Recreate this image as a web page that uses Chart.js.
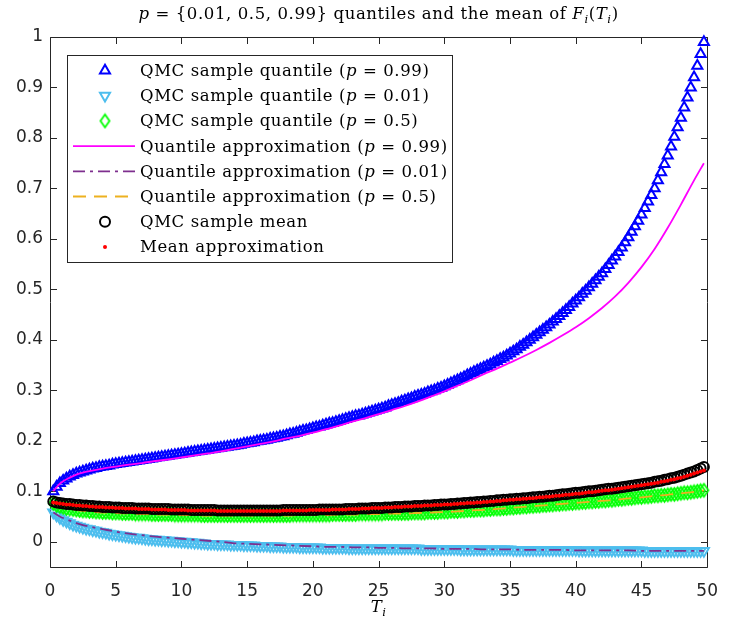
<!DOCTYPE html>
<html>
<head>
<meta charset="utf-8">
<title>Quantiles and mean of F_i(T_i)</title>
<script src="https://cdn.jsdelivr.net/npm/chart.js@4.4.1/dist/chart.umd.min.js"></script>
<style>
  html, body { margin: 0; padding: 0; background: #fff; }
</style>
</head>
<body>
<canvas id="quantileChart" width="732" height="624"></canvas>
<script>
// ---- data (values in thousandths) ------------------------------------------
// sample grid T = 0.25, 0.5, ... 49.75
const tStep = 0.25;
const tCount = 199;
const tGrid = Array.from({ length: tCount }, (_, i) => (i + 1) * tStep);

const qmcQ99 = [
  100,109,116,121, 125,129,132,135, 137,139,141,143, 145,146,148,149, 150,151,153,154,
  155,156,157,158, 159,160,161,162, 163,164,165,166, 167,168,169,170, 171,172,173,174,
  175,176,177,178, 179,180,181,182, 183,184,185,186, 187,188,189,190, 191,192,194,195,
  196,197,199,200, 201,202,204,205, 206,208,209,211, 213,214,216,218, 220,221,223,225,
  227,228,230,232, 234,235,237,239, 241,243,245,247, 249,250,252,254, 256,258,260,262,
  264,266,269,271, 273,275,278,280, 282,284,287,289, 291,293,296,298, 300,303,305,308,
  311,314,317,320, 323,326,330,333, 336,339,342,345, 348,351,355,358, 362,365,369,373,
  377,381,386,390, 395,400,405,410, 415,420,425,430, 436,441,447,453, 459,465,472,478,
  484,491,497,504, 511,518,525,532, 540,548,557,565, 574,583,593,603, 614,625,636,648,
  661,674,687,700, 716,732,748,765, 783,802,821,840, 860,880,900,920, 943,966,990
];

const qmcQ01 = [
  58,52,47,43, 40,37,34,32, 30,28,26,25, 23,22,20,19, 18,16,15,14,
  13,12,11,10, 9,8,8,7, 6,5,5,4, 4,3,3,2, 2,1,1,0,
  0,-1,-1,-2, -2,-3,-3,-4, -4,-4,-5,-5, -5,-5,-6,-6, -6,-6,-7,-7,
  -7,-7,-8,-8, -8,-8,-9,-9, -9,-9,-10,-10, -10,-10,-10,-11, -11,-11,-11,-11,
  -11,-11,-12,-12, -12,-12,-12,-12, -12,-12,-13,-13,
  -13,-13,-13,-13, -13,-13,-13,-13, -13,-13,-13,-13, -13,-13,-13,-13, -13,-13,-13,-13,
  -14,-14,-14,-14, -14,-14,-14,-14, -14,-14,-14,-14,
  -15,-15,-15,-15, -15,-15,-15,-15, -15,-15,-15,-15, -15,-15,-15,-15,
  -16,-16,-16,-16, -16,-16,-16,-16, -16,-16,-16,-16, -16,-16,-16,-16, -16,-16,-16,-16,
  -17,-17,-17,-17, -17,-17,-17,-17, -17,-17,-17,-17, -17,-17,-17,-17, -17,-17,-17,-17,
  -18,-18,-18,-18, -18,-18,-18,-18, -18,-18,-18,-18, -18,-18,-18,-18, -18,-18,-18
];

const qmcQ50 = [
  76,72,70,68, 66,65,64,63, 62,61,61,60, 60,59,59,58, 58,58,57,57,
  57,56,56,56, 56,55,55,55, 55,55,54,54, 54,54,54,54, 54,53,53,53,
  53,53,53,53, 53,52,52,52, 52,52,52,52, 52,52,52,52, 52,52,52,52,
  52,52,52,52, 52,52,52,52, 52,52,52,52, 52,53,53,53, 53,53,53,53,
  53,53,53,53, 53,54,54,54, 54,54,54,54, 54,55,55,55, 55,55,55,55,
  55,56,56,56, 56,56,56,56, 56,57,57,57, 57,57,58,58, 58,58,59,59,
  59,60,60,60, 61,61,62,62, 62,63,63,63, 64,64,65,65, 65,66,66,67,
  67,68,68,69, 69,70,70,71, 71,72,72,73, 73,74,74,75, 75,76,76,77,
  77,78,78,79, 79,80,80,81, 81,82,82,83, 84,84,85,86, 86,87,88,88,
  89,89,90,91, 91,92,92,93, 94,94,95,96, 97,97,98,99, 100,101,102
];

const qmcMean = [
  80,78,77,76, 75,75,74,73, 73,72,72,71, 71,70,70,69, 69,69,68,68,
  68,67,67,67, 67,66,66,66, 66,66,65,65, 65,65,65,65, 64,64,64,64,
  64,64,63,63, 63,63,63,63, 63,63,62,62, 62,62,62,62, 62,62,62,62,
  62,62,62,62, 62,62,62,62, 62,62,63,63, 63,63,63,63, 63,63,63,63,
  63,64,64,64, 64,64,64,64, 64,65,65,65, 65,66,66,66, 66,67,67,67,
  67,68,68,68, 69,69,69,70, 70,70,71,71, 71,72,72,72, 73,73,74,74,
  74,75,75,76, 76,77,77,78, 78,79,79,80, 80,81,81,82, 82,83,83,84,
  84,85,85,86, 86,87,88,88, 89,89,90,91, 91,92,93,94, 94,95,96,97,
  97,98,99,100, 100,101,102,103, 104,105,105,106, 107,108,109,110, 111,112,113,114,
  115,116,117,119, 120,121,123,124, 126,127,129,131, 133,135,137,139, 142,145,148
];

const approxMean = [
  78,77,76,75, 74,74,73,72, 72,71,71,70, 70,69,69,69, 68,68,68,67,
  67,67,66,66, 66,66,65,65, 65,65,64,64, 64,64,64,63, 63,63,63,63,
  63,62,62,62, 62,62,62,62, 62,62,61,61, 61,61,61,61, 61,61,61,61,
  61,61,61,61, 61,61,61,61, 61,61,62,62, 62,62,62,62, 62,62,63,63,
  63,63,63,63, 63,64,64,64, 64,64,65,65, 65,65,66,66, 66,67,67,67,
  67,68,68,68, 69,69,69,70, 70,70,71,71, 71,72,72,72, 73,73,73,74,
  74,74,75,75, 76,76,77,77, 77,78,78,79, 79,80,80,81, 81,82,82,83,
  83,84,84,85, 85,86,86,87, 88,88,89,89, 90,91,91,92, 93,93,94,95,
  95,96,97,98, 98,99,100,101, 102,102,103,104, 105,106,107,108, 109,110,111,112,
  113,114,115,116, 117,119,120,121, 123,124,126,127, 129,131,133,135, 137,139,141
];

// approximation curves on a coarser grid
const tLine = [0.25, 0.5, 0.75, 1, 1.5, 2, 2.5, 3,
  4, 5, 6, 7, 8, 9, 10, 11, 12, 13, 14, 15, 16, 17, 18, 19, 20, 21, 22, 23, 24, 25, 26,
  27, 28, 29, 30, 31, 32, 33, 34, 35, 36, 37, 38, 39, 40, 41, 42, 43, 44, 45, 46, 47, 48, 49, 49.75];

const approxQ99 = [100,108,115,120,127,133,137,140,
  145,149,153,156,160,163,167,171,175,179,184,189,194,199,205,210,216,223,230,238,245,253,
  261,269,278,288,298,309,320,332,343,355,367,380,394,409,425,443,463,486,513,544,580,622,668,716, 750];

const approxQ01 = [58,54,50,47,42,37,33,30,
  25,20,16,13,10,8,6,4,2,0,-3,-4,-5,-6,-7,-8,-9,-10,-10,-11,-11,-12,-12,-13,-13,-13,-14,-14,
  -14,-15,-15,-15,-16,-16,-16,-16,-17,-17,-17,-17,-17,-18,-18,-18,-18,-18, -18];

const approxQ50 = [76,72,70,68,65,63,61,60,
  58,57,56,55,54,54,53,53,52,52,52,52,52,52,52,53,53,53,54,54,55,55,56,56,57,58,59,60,
  62,63,65,67,69,71,73,75,77,79,81,83,86,88,91,93,96,99, 102];

const xTicks = [0, 5, 10, 15, 20, 25, 30, 35, 40, 45, 50];
const yTicks = [0, 0.1, 0.2, 0.3, 0.4, 0.5, 0.6, 0.7, 0.8, 0.9, 1];

// label pieces: r = roman, i = italic, s = italic subscript
const titleParts = [['p', 'i'], [' = {0.01, 0.5, 0.99} quantiles and the mean of ', 'r'],
  ['F', 'i'], ['i', 's'], ['(', 'r'], ['T', 'i'], ['i', 's'], [')', 'r']];
const xLabelParts = [['T', 'i'], ['i', 's']];
const legendParts = [
  [['QMC sample quantile (', 'r'], ['p', 'i'], [' = 0.99)', 'r']],
  [['QMC sample quantile (', 'r'], ['p', 'i'], [' = 0.01)', 'r']],
  [['QMC sample quantile (', 'r'], ['p', 'i'], [' = 0.5)', 'r']],
  [['Quantile approximation (', 'r'], ['p', 'i'], [' = 0.99)', 'r']],
  [['Quantile approximation (', 'r'], ['p', 'i'], [' = 0.01)', 'r']],
  [['Quantile approximation (', 'r'], ['p', 'i'], [' = 0.5)', 'r']],
  [['QMC sample mean', 'r']],
  [['Mean approximation', 'r']]
];

// ---- helpers -----------------------------------------------------------------
const SERIF = '"DejaVu Serif", "Liberation Serif", serif';
const SERIF_SIZE = 16.5;
const AXIS_COLOR = '#262626';

const toPts = (xs, ys) => ys.map((v, i) => ({ x: xs[i], y: v / 1000 }));

function partFont(p, size) {
  const sz = p[1] === 's' ? size * 0.7 : size;
  return (p[1] === 'r' ? '' : 'italic ') + sz + 'px ' + SERIF;
}

function drawRich(ctx, parts, x, y, size, align) {
  ctx.letterSpacing = '0.6px';
  let w = 0;
  parts.forEach(p => { ctx.font = partFont(p, size); w += ctx.measureText(p[0]).width; });
  let cx = align === 'center' ? x - w / 2 : x;
  ctx.textAlign = 'left';
  ctx.textBaseline = 'alphabetic';
  parts.forEach(p => {
    ctx.font = partFont(p, size);
    ctx.fillText(p[0], cx, p[1] === 's' ? y + size * 0.25 : y);
    cx += ctx.measureText(p[0]).width;
  });
  ctx.letterSpacing = '0px';
}

// MATLAB-like tall diamond marker
function diamondMarker(color, w, h, lw) {
  const c = document.createElement('canvas');
  c.width = Math.ceil(w + lw * 2);
  c.height = Math.ceil(h + lw * 2);
  const g = c.getContext('2d');
  const cx = c.width / 2, cy = c.height / 2;
  g.strokeStyle = color;
  g.lineWidth = lw;
  g.lineJoin = 'miter';
  g.beginPath();
  g.moveTo(cx, cy - h / 2); g.lineTo(cx + w / 2, cy);
  g.lineTo(cx, cy + h / 2); g.lineTo(cx - w / 2, cy);
  g.closePath();
  g.stroke();
  return c;
}

// ---- datasets ----------------------------------------------------------------
const markerSet = (label, ys, style, color, radius, extra) => Object.assign({
  label: label, data: toPts(tGrid, ys), showLine: false,
  pointStyle: style, pointRadius: radius, borderColor: color, borderWidth: 2,
  backgroundColor: 'rgba(0,0,0,0)', clip: false
}, extra || {});

const lineSet = (label, ys, color, dash) => ({
  label: label, data: toPts(tLine, ys), showLine: true, pointRadius: 0,
  borderColor: color, borderWidth: 1.8, borderDash: dash, backgroundColor: color,
  cubicInterpolationMode: 'monotone', clip: false
});

const datasets = [
  markerSet('QMC q99', qmcQ99, 'triangle', '#0000ff', 5.8),
  markerSet('QMC q01', qmcQ01, 'triangle', '#4dbeee', 5.8, { rotation: 180 }),
  markerSet('QMC q50', qmcQ50, diamondMarker('#00ff00', 9, 13, 1.8), '#00ff00', 6),
  lineSet('Approx q99', approxQ99, '#ff00ff', []),
  lineSet('Approx q01', approxQ01, '#7e2f8e', [12, 5, 3, 5]),
  lineSet('Approx q50', approxQ50, '#edb120', [13, 8]),
  markerSet('QMC mean', qmcMean, 'circle', '#000000', 5),
  markerSet('Mean approx', approxMean, 'circle', '#ff0000', 2, { backgroundColor: '#ff0000', borderWidth: 0 })
];
// later series drawn on top, like the original plot order
datasets.forEach((d, i) => { d.order = datasets.length - i; });

// ---- decoration plugin: box, inward ticks, title, x label, legend -------------
const decor = {
  id: 'decor',
  beforeDatasetsDraw(chart) {
    const { ctx, chartArea: a, scales: { x, y } } = chart;
    const L = Math.round(a.left) + 0.5, R = Math.round(a.right) + 0.5;
    const T = Math.round(a.top) + 0.5, B = Math.round(a.bottom) + 0.5;
    const tl = 6.5;
    ctx.save();
    ctx.strokeStyle = AXIS_COLOR;
    ctx.lineWidth = 1;
    ctx.beginPath();
    ctx.rect(L, T, R - L, B - T);
    xTicks.forEach(v => {
      const px = Math.round(x.getPixelForValue(v)) + 0.5;
      ctx.moveTo(px, B); ctx.lineTo(px, B - tl);
      ctx.moveTo(px, T); ctx.lineTo(px, T + tl);
    });
    yTicks.forEach(v => {
      const py = Math.round(y.getPixelForValue(v)) + 0.5;
      ctx.moveTo(L, py); ctx.lineTo(L + tl, py);
      ctx.moveTo(R, py); ctx.lineTo(R - tl, py);
    });
    ctx.stroke();
    ctx.restore();
  },
  afterDraw(chart) {
    const { ctx, chartArea: a } = chart;
    const midX = (a.left + a.right) / 2;
    ctx.save();
    ctx.fillStyle = '#000';
    drawRich(ctx, titleParts, midX, 19, SERIF_SIZE, 'center');
    drawRich(ctx, xLabelParts, midX, 612, SERIF_SIZE, 'center');

    // legend box
    const bx = 67.5, by = 55.5, bw = 385, bh = 207;
    ctx.fillStyle = '#fff';
    ctx.fillRect(bx, by, bw, bh);
    ctx.strokeStyle = AXIS_COLOR;
    ctx.lineWidth = 1;
    ctx.strokeRect(bx, by, bw, bh);

    const rowY0 = 70.5, rowGap = 25.2, symX = 105, lineX0 = 73, lineX1 = 135, textX = 140;
    legendParts.forEach((parts, i) => {
      const ds = chart.data.datasets[i];
      const cy = rowY0 + i * rowGap;
      ctx.save();
      if (ds.showLine) {
        ctx.strokeStyle = ds.borderColor;
        ctx.lineWidth = ds.borderWidth;
        ctx.setLineDash(ds.borderDash || []);
        ctx.beginPath();
        ctx.moveTo(lineX0, cy); ctx.lineTo(lineX1, cy);
        ctx.stroke();
      } else {
        ctx.strokeStyle = ds.borderColor;
        ctx.fillStyle = ds.backgroundColor;
        ctx.lineWidth = ds.borderWidth;
        Chart.helpers.drawPoint(ctx, {
          pointStyle: ds.pointStyle, radius: ds.pointRadius,
          rotation: ds.rotation || 0, borderWidth: ds.borderWidth
        }, symX, cy);
      }
      ctx.restore();
      ctx.fillStyle = '#000';
      drawRich(ctx, parts, textX, cy + 5.5, SERIF_SIZE, 'left');
    });
    ctx.restore();
  }
};

// ---- chart -----------------------------------------------------------------
const tickFont = { family: '"DejaVu Sans", sans-serif', size: 17 };

new Chart(document.getElementById('quantileChart').getContext('2d'), {
  type: 'scatter',
  data: { datasets: datasets },
  options: {
    responsive: false,
    animation: false,
    events: [],
    devicePixelRatio: 1,
    layout: { padding: { top: 37, right: 13, left: 0, bottom: 0 } },
    plugins: { legend: { display: false }, title: { display: false }, tooltip: { enabled: false } },
    scales: {
      x: {
        type: 'linear', min: 0, max: 50,
        grid: { display: false, drawTicks: false },
        border: { display: false },
        afterBuildTicks: s => { s.ticks = xTicks.map(v => ({ value: v })); },
        afterFit: s => { s.height = 57; },
        ticks: { color: AXIS_COLOR, font: tickFont, padding: 14, maxRotation: 0, callback: v => String(v) }
      },
      y: {
        type: 'linear', min: -0.05, max: 1,
        grid: { display: false, drawTicks: false },
        border: { display: false },
        afterBuildTicks: s => { s.ticks = yTicks.map(v => ({ value: v })); },
        afterFit: s => { s.width = 50; },
        ticks: { color: AXIS_COLOR, font: tickFont, padding: 7, callback: v => String(+v.toFixed(1)) }
      }
    }
  },
  plugins: [decor]
});
</script>
</body>
</html>
